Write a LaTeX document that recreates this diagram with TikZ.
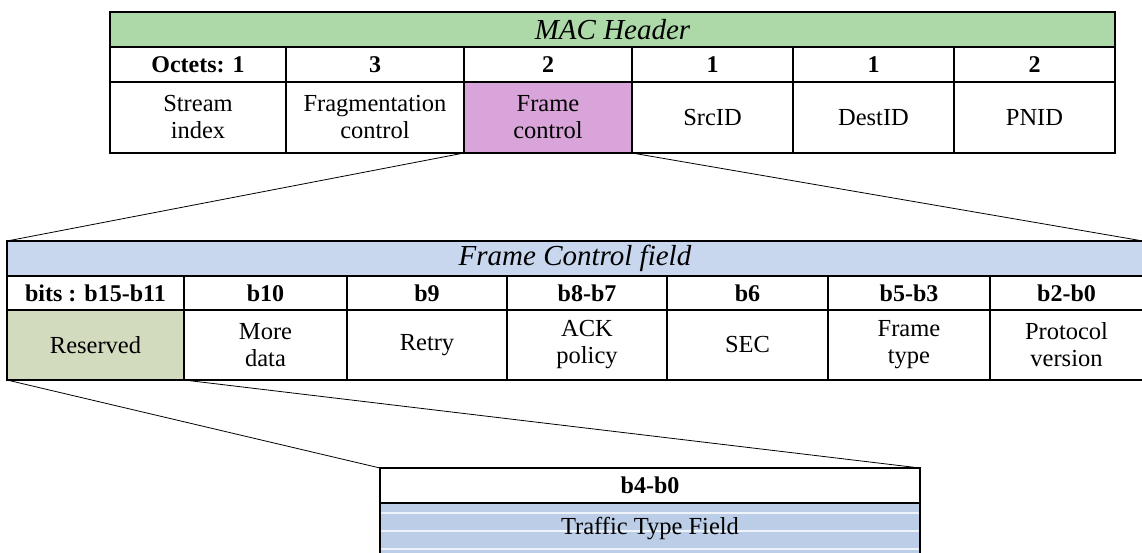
\documentclass[tikz,border=0pt]{standalone}
\usepackage{fontspec}
\setmainfont{Liberation Serif}
\definecolor{macgreen}{HTML}{ADD9A8}
\definecolor{fcpink}{HTML}{D8A4D9}
\definecolor{fcfblue}{HTML}{C8D6EE}
\definecolor{resolive}{HTML}{D3DBBF}
\definecolor{ttblue}{HTML}{BCCDE8}
\tikzset{
  cell/.style={draw=black, line width=2pt, inner sep=0pt, outer sep=0pt,
    anchor=north west, align=center, font=\fontsize{24.5}{27}\selectfont},
  title/.style={cell, font=\fontsize{29}{32}\selectfont\itshape},
  bitcell/.style={cell, font=\fontsize{24}{27}\selectfont\bfseries},
  zoomline/.style={line width=0.8pt, black},
}
\begin{document}
\begin{tikzpicture}[x=1pt, y=-1pt]
\useasboundingbox (0,0) rectangle (1142,552);
\begin{scope}
\clip (0,0) rectangle (1142,552);
% MAC header
\node[title, fill=macgreen, minimum width=1005, minimum height=35] (mac) at (110,12) {MAC Header};
\node[bitcell, minimum width=176, minimum height=35] (o1) at (110,47) {Octets: 1};
\node[bitcell, minimum width=178, minimum height=35] (o2) at (286,47) {3};
\node[bitcell, minimum width=168, minimum height=35] (o3) at (464,47) {2};
\node[bitcell, minimum width=161, minimum height=35] (o4) at (632,47) {1};
\node[bitcell, minimum width=161, minimum height=35] (o5) at (793,47) {1};
\node[bitcell, minimum width=161, minimum height=35] (o6) at (954,47) {2};
\node[cell, minimum width=176, minimum height=71] (si) at (110,82) {Stream\\index};
\node[cell, minimum width=178, minimum height=71] (frag) at (286,82) {Fragmentation\\control};
\node[cell, fill=fcpink, minimum width=168, minimum height=71] (fc) at (464,82) {Frame\\control};
\node[cell, minimum width=161, minimum height=71] (src) at (632,82) {SrcID};
\node[cell, minimum width=161, minimum height=71] (dst) at (793,82) {DestID};
\node[cell, minimum width=161, minimum height=71] (pnid) at (954,82) {PNID};
% Frame control field
\node[title, fill=fcfblue, minimum width=1136, minimum height=35] (fcf) at (7,241) {Frame Control field};
\node[bitcell, minimum width=177, minimum height=34] (b1) at (7,276) {bits : b15-b11};
\node[bitcell, minimum width=163, minimum height=34] (b2) at (184,276) {b10};
\node[bitcell, minimum width=160, minimum height=34] (b3) at (347,276) {b9};
\node[bitcell, minimum width=160, minimum height=34] (b4) at (507,276) {b8-b7};
\node[bitcell, minimum width=161, minimum height=34] (b5) at (667,276) {b6};
\node[bitcell, minimum width=162, minimum height=34] (b6) at (828,276) {b5-b3};
\node[bitcell, minimum width=153, minimum height=34] (b7) at (990,276) {b2-b0};
\node[cell, fill=resolive, minimum width=177, minimum height=70] (res) at (7,310) {Reserved};
\node[cell, minimum width=163, minimum height=70] (more) at (184,310) {More\\data};
\node[cell, minimum width=160, minimum height=70] (retry) at (347,310) {Retry};
\node[cell, minimum width=160, minimum height=70] (ack) at (507,310) {ACK\\policy};
\node[cell, minimum width=161, minimum height=70] (sec) at (667,310) {SEC};
\node[cell, minimum width=162, minimum height=70] (ftype) at (828,310) {Frame\\type};
\node[cell, minimum width=153, minimum height=70] (proto) at (990,310) {Protocol\\version};
% Traffic type field
\node[bitcell, minimum width=540, minimum height=35] (tb) at (380,468) {b4-b0};
\node[cell, fill=ttblue, minimum width=540, minimum height=52,
  path picture={
    \foreach \s in {10,28,46}
      \draw[white!75!ttblue, line width=1.6pt]
        ([yshift=-\s pt]path picture bounding box.north west) --
        ([yshift=-\s pt]path picture bounding box.north east);
  }] (tt) at (380,503) {Traffic Type Field};
% expansion lines
\draw[zoomline] (fc.south west) -- (fcf.north west);
\draw[zoomline] (fc.south east) -- (fcf.north east);
\draw[zoomline] (res.south west) -- (tb.north west);
\draw[zoomline] (res.south east) -- (tb.north east);
\end{scope}
\end{tikzpicture}
\end{document}
